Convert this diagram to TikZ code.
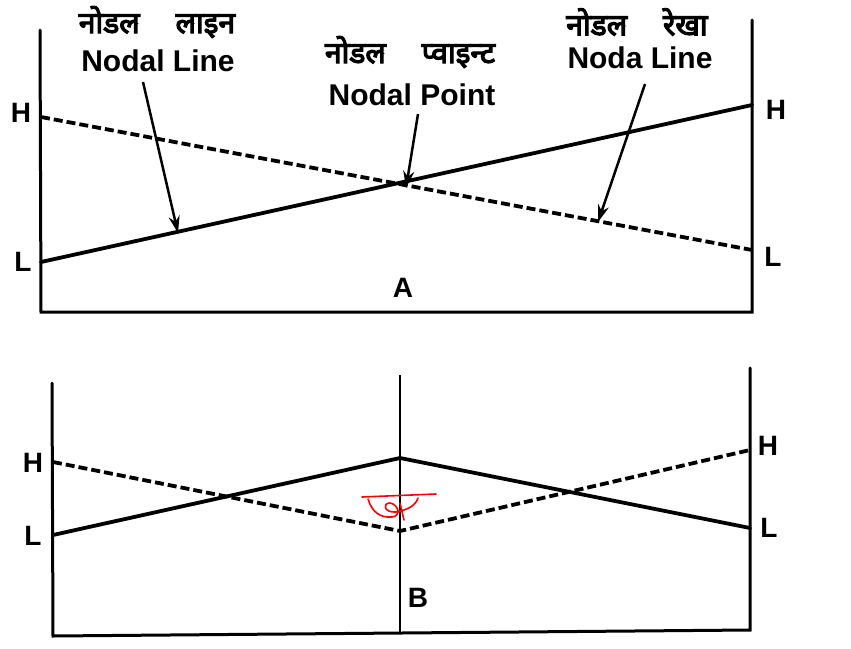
\documentclass[tikz,border=0pt]{standalone}
\usepackage{fontspec}
\setmainfont{Liberation Sans}
\newfontfamily\deva[Script=Devanagari,AutoFakeBold=4]{Noto Sans}
\usetikzlibrary{arrows.meta}
\tikzset{
  frame/.style={line width=3pt, line cap=round},
  solidln/.style={line width=3.8pt, line cap=round},
  dashln/.style={line width=3.8pt, dash pattern=on 9pt off 4pt},
  pointer/.style={line width=2.5pt, -{Stealth[length=17pt,width=11pt]}},
  eng/.style={font=\fontsize{30}{32}\selectfont\bfseries, inner sep=0pt},
  hin/.style={font=\deva\fontsize{30}{32}\selectfont\bfseries, inner sep=0pt},
  lab/.style={font=\fontsize{28}{30}\selectfont\bfseries, inner sep=0pt}
}
\begin{document}
\begin{tikzpicture}[x=1pt,y=-1pt]
\useasboundingbox (0,0) rectangle (851,648);
% ---------- Diagram A ----------
\coordinate (a1) at (40,30);
\coordinate (a2) at (41,312);
\coordinate (a3) at (752,312);
\coordinate (a4) at (752,20);
\draw[frame] (a1) -- (a2) -- (a3) -- (a4);
\coordinate (aHl) at (41,117);
\coordinate (aLl) at (41,262);
\coordinate (aHr) at (752,105);
\coordinate (aLr) at (752,250);
\draw[dashln] (aHl) -- (aLr);
\draw[solidln] (aLl) -- (aHr);
\node[lab] (hA1) at (21,113) {H};
\node[lab] (lA1) at (23,262) {L};
\node[lab] (hA2) at (776,110) {H};
\node[lab] (lA2) at (773,257) {L};
\node[lab] (capA) at (403,288) {A};
% labels
\node[hin] (t1h) at (157,22) {नोडल\hspace{1.2em}लाइन};
\node[eng] (t1e) at (158,61) {Nodal Line};
\node[hin] (t2h) at (410,52) {नोडल\hspace{1.2em}प्वाइन्ट};
\node[eng] (t2e) at (412,95) {Nodal Point};
\node[hin] (t3h) at (637,22) {नोडल\hspace{1.2em}रेखा};
\node[eng] (t3e) at (640,58) {Noda Line};
\coordinate (p1s) at (143,82);
\coordinate (p1e) at (178,233);
\coordinate (p2s) at (418,114);
\coordinate (p2e) at (406,188);
\coordinate (p3s) at (645,84);
\coordinate (p3e) at (598,222);
\draw[pointer] (p1s) -- (p1e);
\draw[pointer] (p2s) -- (p2e);
\draw[pointer] (p3s) -- (p3e);
% ---------- Diagram B ----------
\coordinate (b1) at (52,383);
\coordinate (b2) at (53,636);
\coordinate (b3) at (750,630);
\coordinate (b4) at (750,368);
\coordinate (bm1) at (400,375);
\coordinate (bm2) at (400,632);
\draw[frame] (b1) -- (b2) -- (b3) -- (b4);
\draw[line width=2.4pt] (bm1) -- (bm2);
\coordinate (bHl) at (53,462);
\coordinate (bLl) at (53,535);
\coordinate (bHr) at (750,450);
\coordinate (bLr) at (750,528);
\coordinate (bTop) at (400,458);
\coordinate (bBot) at (400,531);
\draw[solidln] (bLl) -- (bTop) -- (bLr);
\draw[dashln] (bHl) -- (bBot) -- (bHr);
\node[lab] (hB1) at (33,463) {H};
\node[lab] (lB1) at (33,536) {L};
\node[lab] (hB2) at (768,446) {H};
\node[lab] (lB2) at (769,528) {L};
\node[lab] (capB) at (418,598) {B};
% red scribble
\draw[red, line width=1.6pt, line cap=round, line join=round]
  (362,497) -- (436,494)
  (368,499) .. controls (372,512) and (380,518) .. (392,517)
  .. controls (402,516) and (398,504) .. (390,503)
  .. controls (382,503) and (384,513) .. (396,512)
  .. controls (408,510) and (416,505) .. (418,498)
  (400,503) -- (404,520);
\end{tikzpicture}
\end{document}
